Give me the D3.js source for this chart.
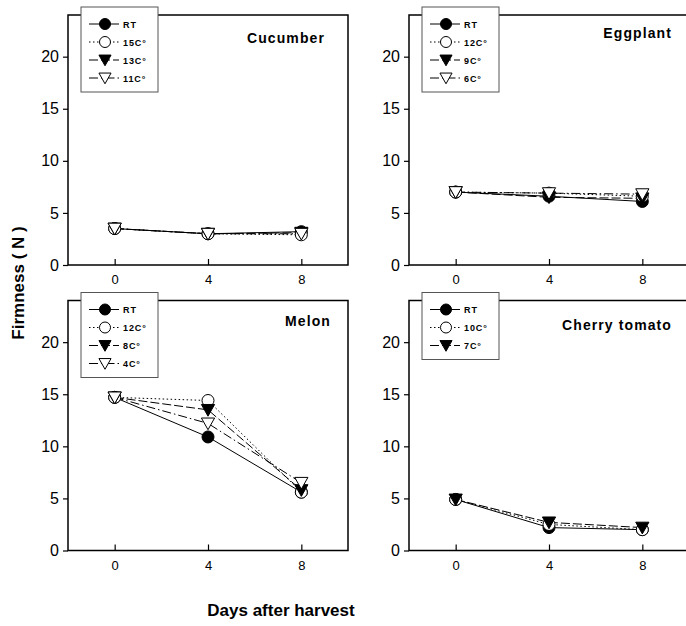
<!DOCTYPE html>
<html>
<head>
<meta charset="utf-8">
<script src="https://cdn.jsdelivr.net/npm/d3@7"></script>
<style>
body { margin: 0; background: #fff; }
svg { display: block; font-family: Arial, "Liberation Sans", sans-serif; }
</style>
</head>
<body>
<svg width="686" height="626"></svg>
<script>
var days = [0, 4, 8]
var xTicks = [0, 4, 8]
var yTicks = [0, 5, 10, 15, 20]

var cucumberLabels = ['RT', '15C°', '13C°', '11C°']
var cucumberValues = [[3.5, 3.0, 3.2], [3.5, 3.0, 2.9], [3.5, 3.0, 3.1], [3.5, 3.0, 3.0]]

var eggplantLabels = ['RT', '12C°', '9C°', '6C°']
var eggplantValues = [[7.0, 6.6, 6.1], [7.0, 6.9, 6.6], [7.0, 6.5, 6.4], [7.0, 6.9, 6.8]]

var melonLabels = ['RT', '12C°', '8C°', '4C°']
var melonValues = [[14.7, 10.9, 5.6], [14.7, 14.4, 5.6], [14.7, 13.5, 5.8], [14.7, 12.2, 6.5]]

var tomatoLabels = ['RT', '10C°', '7C°']
var tomatoValues = [[4.9, 2.2, 2.0], [4.9, 2.5, 2.0], [4.9, 2.7, 2.2]]

// line dash + marker per series position
var dashes = [null, '1.5,2.5', '9,3', '9,3,1.5,3']
var markers = ['circleFill', 'circleOpen', 'triFill', 'triOpen']

var pw = 280, ph = 250

var panels = [
    {name: 'Cucumber', labels: cucumberLabels, values: cucumberValues, x: 68, y: 15, tx: 257, ty: 28},
    {name: 'Eggplant', labels: eggplantLabels, values: eggplantValues, x: 409, y: 15, tx: 263, ty: 23},
    {name: 'Melon', labels: melonLabels, values: melonValues, x: 68, y: 300.5, tx: 263, ty: 25},
    {name: 'Cherry tomato', labels: tomatoLabels, values: tomatoValues, x: 409, y: 300.5, tx: 263, ty: 29.5}
]

var xs = d3.scaleLinear().domain([-2, 10]).range([0, pw])
var ys = d3.scaleLinear().domain([0, 24]).range([ph, 0])

var svg = d3.select('svg')

drawMarker = function(g, type, x, y, r) {
    if (type == 'circleFill' || type == 'circleOpen') {
        g.append('circle').attr('cx', x).attr('cy', y).attr('r', r)
            .style('fill', type == 'circleFill' ? '#000' : '#fff')
            .style('stroke', '#000').style('stroke-width', 1)
    } else {
        var w = r * 1.1, h = r
        g.append('path')
            .attr('d', `M${x - w},${y - h * 0.9} L${x + w},${y - h * 0.9} L${x},${y + h * 1.05} Z`)
            .style('fill', type == 'triFill' ? '#000' : '#fff')
            .style('stroke', '#000').style('stroke-width', 1)
    }
}

panels.forEach(function(p) {
    var g = svg.append('g').attr('transform', `translate(${p.x},${p.y})`)

    // lines
    var line = d3.line().x((d, i) => xs(days[i])).y(d => ys(d))
    p.values.forEach(function(v, i) {
        g.append('path').attr('d', line(v))
            .style('fill', 'none').style('stroke', '#000').style('stroke-width', 1)
            .style('stroke-dasharray', dashes[i])
    })
    // markers
    p.values.forEach(function(v, i) {
        v.forEach(function(d, j) {
            drawMarker(g, markers[i], xs(days[j]), ys(d), 6)
        })
    })

    // frame
    g.append('rect').attr('x', 0).attr('y', 0).attr('width', pw).attr('height', ph)
        .style('fill', 'none').style('stroke', '#000').style('stroke-width', 1.5)

    // y axis (outward ticks)
    var ya = g.append('g').call(d3.axisLeft(ys).tickValues(yTicks).tickSize(5).tickPadding(4))
    ya.select('.domain').remove()
    ya.selectAll('line').style('stroke-width', 1.2)
    ya.selectAll('text').style('font-size', '16px').style('fill', '#000')

    // x axis (inward ticks)
    var xa = g.append('g').attr('transform', `translate(0,${ph})`)
        .call(d3.axisBottom(xs).tickValues(xTicks).tickSize(-6).tickPadding(10))
    xa.select('.domain').remove()
    xa.selectAll('line').style('stroke-width', 1.2)
    xa.selectAll('text').style('font-size', '13px').style('fill', '#000')

    // title
    g.append('text').attr('x', p.tx).attr('y', p.ty).attr('text-anchor', 'end')
        .style('font-size', '14px').style('font-weight', 'bold').style('letter-spacing', '1.1px')
        .text(p.name)

    // legend
    var n = p.labels.length
    var lg = g.append('g').attr('transform', `translate(13,-8)`)
    lg.append('rect').attr('width', 77).attr('height', 18 * n + 13)
        .style('fill', '#fff').style('stroke', '#555').style('stroke-width', 1)
    p.labels.forEach(function(lab, i) {
        var yy = 17 + 18 * i
        lg.append('line').attr('x1', 8).attr('x2', 38).attr('y1', yy).attr('y2', yy)
            .style('stroke', '#000').style('stroke-width', 1).style('stroke-dasharray', dashes[i])
        drawMarker(lg, markers[i], 24, yy, 5.5)
        lg.append('text').attr('x', 42).attr('y', yy + 3.5)
            .style('font-size', '9px').style('font-weight', 'bold').style('letter-spacing', '0.9px')
            .text(lab)
    })
})

svg.append('text').attr('transform', 'translate(24,283) rotate(-90)').attr('text-anchor', 'middle')
    .style('font-size', '17px').style('font-weight', 'bold').text('Firmness ( N )')

svg.append('text').attr('x', 281).attr('y', 616).attr('text-anchor', 'middle')
    .style('font-size', '17px').style('font-weight', 'bold').text('Days after harvest')
</script>
</body>
</html>
